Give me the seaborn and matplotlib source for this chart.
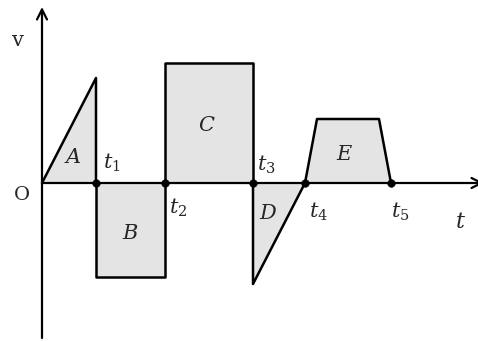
import matplotlib
matplotlib.use("Agg")
import matplotlib.pyplot as plt
import seaborn as sns
import pandas as pd

# time marks and the shapes of the v-t graph
t_marks = [5.4, 12.3, 21.1, 26.3, 34.9]
t_labels = ["$t_1$", "$t_2$", "$t_3$", "$t_4$", "$t_5$"]

shape_A_t = [0, 5.4, 5.4]
shape_A_v = [0, 10.5, 0]
shape_B_t = [5.4, 5.4, 12.3, 12.3]
shape_B_v = [0, -9.4, -9.4, 0]
shape_C_t = [12.3, 12.3, 21.1, 21.1]
shape_C_v = [0, 12.0, 12.0, 0]
shape_D_t = [21.1, 21.1, 26.3]
shape_D_v = [0, -10.1, 0]
shape_E_t = [26.3, 27.5, 33.7, 34.9]
shape_E_v = [0, 6.4, 6.4, 0]

shape_names = ["A", "B", "C", "D", "E"]
label_t = [3.1, 8.8, 16.5, 22.6, 30.3]
label_v = [2.6, -5.0, 5.8, -3.0, 2.9]

sns.set_style("white")
plt.rcParams["mathtext.fontset"] = "dejavuserif"

fig = plt.figure(figsize=(4.78, 3.41), dpi=100)
ax = fig.add_axes([0, 0, 1, 1])

shapes = [(shape_A_t, shape_A_v), (shape_B_t, shape_B_v), (shape_C_t, shape_C_v),
          (shape_D_t, shape_D_v), (shape_E_t, shape_E_v)]
for ts, vs in shapes:
    ax.fill(ts, vs, color="#e4e4e4", zorder=1)
    df = pd.DataFrame({"t": ts, "v": vs})
    sns.lineplot(data=df, x="t", y="v", sort=False, estimator=None,
                 color="black", linewidth=1.8, ax=ax, zorder=3)

# axes with arrows
ax.annotate("", xy=(44.2, 0), xytext=(0, 0), annotation_clip=False,
            arrowprops=dict(arrowstyle="->", color="black", lw=1.6,
                            mutation_scale=18, shrinkA=0, shrinkB=0), zorder=2)
ax.annotate("", xy=(0, 17.6), xytext=(0, -15.5), annotation_clip=False,
            arrowprops=dict(arrowstyle="->", color="black", lw=1.6,
                            mutation_scale=18, shrinkA=0, shrinkB=0), zorder=2)

sns.scatterplot(x=t_marks, y=[0] * len(t_marks), color="black", s=30,
                ax=ax, zorder=4, edgecolor="black")

for name, lt, lv in zip(shape_names, label_t, label_v):
    ax.text(lt, lv, f"${name}$", fontsize=15, ha="center", va="center")

label_offsets = [(1.6, 2.0), (1.3, -2.5), (1.3, 1.8), (1.3, -2.9), (0.9, -2.9)]
for tm, tl, (dx, dy) in zip(t_marks, t_labels, label_offsets):
    ax.text(tm + dx, dy, tl, fontsize=15, ha="center", va="center")

ax.text(-2.4, 14.3, "v", fontsize=15, ha="center", va="center", family="DejaVu Serif")
ax.text(-2.0, -1.2, "O", fontsize=14, ha="center", va="center", family="DejaVu Serif")
ax.text(41.8, -3.9, "$t$", fontsize=16, ha="center", va="center")

ax.set_xlim(-4.2, 43.6)
ax.set_ylim(-15.8, 18.3)
ax.axis("off")

fig.savefig("out.png", dpi=100)
